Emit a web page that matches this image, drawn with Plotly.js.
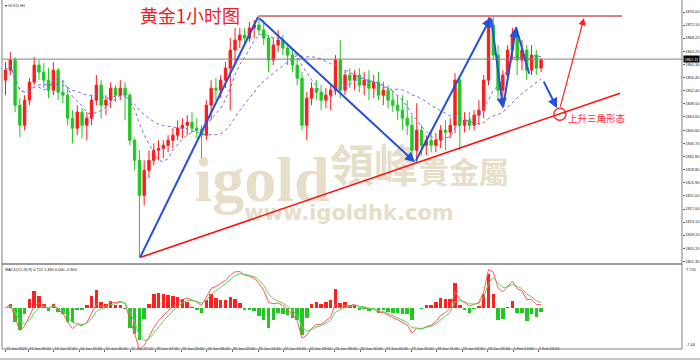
<!DOCTYPE html>
<html><head><meta charset="utf-8">
<script src="https://cdn.plot.ly/plotly-3.0.1.min.js"></script>
<style>html,body{margin:0;padding:0;background:#fff}#chart{width:700px;height:360px}</style>
</head><body><div id="chart"></div>
<script>
// ---- data (3-hour steps of hourly bar index) ----
const barIndex = Array.from({length:113},(_,k)=>3*k);
const openP = [1855.6,1858.6,1861.6,1848.1,1842.1,1849.6,1855.0,1860.1,1858.0,1855.6,
1852.6,1858.6,1852.0,1851.1,1844.2,1841.2,1846.0,1842.1,1844.2,1849.6,
1854.1,1848.1,1849.6,1853.2,1851.1,1853.2,1851.1,1837.6,1831.6,1821.1,
1828.6,1831.6,1834.6,1835.2,1836.1,1837.6,1839.1,1841.2,1842.1,1843.0,
1841.2,1840.6,1839.1,1848.1,1853.2,1852.6,1855.6,1859.2,1864.6,1867.6,
1869.1,1868.2,1871.2,1872.1,1870.6,1868.2,1861.6,1866.1,1867.6,1865.2,
1863.1,1860.1,1856.2,1842.1,1850.2,1853.2,1852.0,1849.6,1851.1,1852.6,
1861.6,1852.6,1857.1,1855.6,1857.1,1854.1,1855.6,1853.2,1855.0,1851.1,
1852.6,1849.6,1848.1,1846.6,1844.2,1842.1,1834.6,1840.6,1836.1,1837.6,
1836.1,1837.6,1840.6,1840.0,1842.1,1855.6,1842.1,1843.6,1842.1,1845.1,
1846.6,1855.6,1872.1,1863.1,1852.6,1857.1,1864.6,1869.1,1861.6,1864.6,
1858.6,1863.1,1859.2];
const highP = [1861.0,1864.0,1862.5,1850.2,1851.1,1856.2,1862.5,1861.6,1860.7,1859.2,
1861.0,1859.2,1855.6,1853.2,1846.6,1848.1,1847.2,1846.0,1851.1,1857.1,
1855.6,1851.1,1855.0,1854.1,1855.6,1855.0,1851.7,1838.2,1834.6,1831.6,
1834.6,1836.7,1837.6,1837.6,1839.1,1841.2,1843.6,1844.2,1845.1,1846.0,
1844.2,1842.1,1849.6,1855.6,1856.2,1857.1,1861.0,1868.2,1871.2,1871.2,
1871.2,1873.0,1873.6,1874.5,1873.6,1869.1,1868.2,1870.6,1869.1,1866.1,
1864.6,1862.2,1858.0,1852.0,1855.0,1855.6,1854.1,1853.2,1854.1,1863.1,
1867.6,1858.6,1859.2,1858.6,1859.2,1858.0,1858.6,1857.1,1858.0,1855.0,
1854.1,1852.6,1851.1,1851.1,1849.6,1845.1,1848.7,1842.1,1839.1,1840.0,
1839.7,1842.1,1843.6,1844.2,1857.7,1856.2,1846.0,1846.0,1846.6,1849.6,
1857.1,1874.5,1874.5,1866.1,1858.6,1866.1,1871.2,1870.6,1867.6,1866.1,
1866.1,1864.6,1862.2];
const lowP = [1851.1,1857.1,1846.0,1838.5,1840.6,1848.1,1854.1,1855.6,1853.2,1850.2,
1851.1,1849.6,1848.7,1842.1,1836.7,1839.1,1838.2,1837.6,1842.1,1848.1,
1844.2,1845.1,1847.2,1849.0,1849.6,1843.6,1836.1,1828.6,1802.5,1818.1,
1826.2,1830.1,1831.6,1832.2,1834.0,1835.2,1837.6,1838.2,1839.1,1840.0,
1838.2,1832.2,1837.6,1843.6,1849.6,1850.2,1853.2,1846.6,1860.1,1865.2,
1866.1,1867.0,1868.2,1869.1,1866.1,1858.0,1860.1,1864.0,1863.1,1860.1,
1858.0,1854.1,1840.6,1837.6,1848.1,1849.6,1846.6,1847.2,1846.6,1851.1,
1850.2,1851.1,1853.2,1852.6,1852.0,1851.1,1849.6,1850.2,1849.6,1848.1,
1847.2,1846.0,1843.6,1840.6,1839.1,1831.6,1831.0,1833.1,1833.1,1834.0,
1834.0,1835.2,1834.6,1838.2,1839.7,1834.6,1840.0,1840.6,1840.6,1842.1,
1844.2,1854.1,1861.6,1849.6,1847.2,1855.6,1861.6,1857.1,1858.6,1855.6,
1857.1,1857.1,1858.0];
const closeP = [1858.6,1861.6,1848.1,1842.1,1849.6,1855.0,1860.1,1858.0,1855.6,1852.6,
1858.6,1852.0,1851.1,1844.2,1841.2,1846.0,1842.1,1844.2,1849.6,1854.1,
1848.1,1849.6,1853.2,1851.1,1853.2,1851.1,1837.6,1831.6,1821.1,1828.6,
1831.6,1834.6,1835.2,1836.1,1837.6,1839.1,1841.2,1842.1,1843.0,1841.2,
1840.6,1839.1,1848.1,1853.2,1852.6,1855.6,1859.2,1864.6,1867.6,1869.1,
1868.2,1871.2,1872.1,1870.6,1868.2,1861.6,1866.1,1867.6,1865.2,1863.1,
1860.1,1856.2,1842.1,1850.2,1853.2,1852.0,1849.6,1851.1,1852.6,1861.6,
1852.6,1857.1,1855.6,1857.1,1854.1,1855.6,1853.2,1855.0,1851.1,1852.6,
1849.6,1848.1,1846.6,1844.2,1842.1,1834.6,1840.6,1836.1,1837.6,1836.1,
1837.6,1840.6,1840.0,1842.1,1855.6,1842.1,1843.6,1842.1,1845.1,1846.6,
1855.6,1872.1,1863.1,1852.6,1857.1,1864.6,1869.1,1861.6,1864.6,1858.6,
1863.1,1859.2,1861.6];
const currentPrice = 1861.9;
const currentPriceText = "1862.11";

const timeTickPos = [0,14.4,30.4,46.4,62.4,78.4,94.4,110.4,126.4,142.4,158.4,174.4,190.4,206.4,222.4,238.4,254.4,270.4,286.4,302.4,318.4,334.4];
const timeTickText = ["12 Jan 2021","13 Jan 06:00","13 Jan 22:00","14 Jan 14:00","15 Jan 06:00","15 Jan 22:00","18 Jan 17:00","19 Jan 14:00","20 Jan 06:00","20 Jan 22:00","21 Jan 14:00","22 Jan 07:00","22 Jan 23:00","25 Jan 18:00","26 Jan 10:00","27 Jan 02:00","27 Jan 19:00","28 Jan 11:00","29 Jan 03:00","29 Jan 19:00","1 Feb 14:00","2 Feb 06:00"];
const priceTickText = ["1876.00","1872.10","1868.20","1864.20","1860.30","1856.40","1852.40","1848.50","1844.60","1840.60","1836.70","1832.80","1828.80","1824.90","1821.00","1817.00","1813.10","1809.20","1805.20","1801.30"];
const priceTickVals = priceTickText.map(Number);
const macdTop = 7.724, macdBottom = -7.44;

// trend lines [x0,y0,x1,y1] in (bar index, price)
const blueLines = [[84.4,1802.5,158.4,1874.5],[320.3,1871.5,328.5,1857.5]];
const blueArrows = [[158.4,1874.5,256.9,1831.0],[256.9,1831.0,304.6,1874.5],[304.6,1874.5,312.1,1847.2],[312.1,1847.2,320.3,1871.5],[337.2,1855.6,346.0,1847.2]];
const supportLine = [84.4,1802.5,385.5,1851.7];
const resistLine = [158.4,1874.8,386.8,1874.8];
const redArrow = [347.8,1847.2,362.9,1874.2];
const circleCenter = [347.8,1845.4];

// ---- indicators ----
function sma(a,n){return a.map((_,i)=>{const s=Math.max(0,i-n+1);let t=0;for(let j=s;j<=i;j++)t+=a[j];return t/(i-s+1);});}
function ema(a,n){const k=2/(n+1);const o=[];a.forEach((v,i)=>o.push(i===0?v:k*v+(1-k)*o[i-1]));return o;}
const maFast = sma(closeP,7), maSlow = sma(closeP,20);
const e1 = ema(closeP,4), e2 = ema(closeP,9);
const dif = e1.map((v,i)=>v-e2[i]);
const dea = ema(dif,3);
const hist = dif.map((v,i)=>2.4*(v-dea[i]));

// ---- geometry helpers ----
const W=700,H=360,L=2,R=18,T=2,B=11, PW=W-L-R, PH=H-T-B;
const px = x => (x-L)/PW, py = y => (H-B-y)/PH;

const traces = [
 {type:'candlestick', x:barIndex, open:openP, high:highP, low:lowP, close:closeP, xaxis:'x', yaxis:'y',
  increasing:{line:{color:'#ff1a1a',width:1},fillcolor:'#ff1a1a'},
  decreasing:{line:{color:'#1ec81e',width:1},fillcolor:'#1ec81e'}, whiskerwidth:0, hoverinfo:'skip'},
 {type:'scatter', mode:'lines', x:barIndex, y:maFast, line:{color:'#6f6cf0',width:1,dash:'dot'}, xaxis:'x', yaxis:'y', hoverinfo:'skip'},
 {type:'scatter', mode:'lines', x:barIndex, y:maSlow, line:{color:'#6f6cf0',width:1,dash:'dot'}, xaxis:'x', yaxis:'y', hoverinfo:'skip'},
 {type:'bar', x:barIndex, y:hist, width:2.2, marker:{color:hist.map(v=>v>=0?'#ff2020':'#22c822'),line:{width:0}}, xaxis:'x', yaxis:'y2', hoverinfo:'skip'},
 {type:'scatter', mode:'lines', x:barIndex, y:dif, line:{color:'#ff5a5a',width:1}, xaxis:'x', yaxis:'y2', hoverinfo:'skip'},
 {type:'scatter', mode:'lines', x:barIndex, y:dea, line:{color:'#5fd05f',width:1}, xaxis:'x', yaxis:'y2', hoverinfo:'skip'}
];

const shapes = [];
const wm = '#e6dec8';
function wmShape(x0,y0,x1,y1,text,size,family,bold){
  shapes.push({type:'rect',xref:'paper',yref:'paper',x0:px(x0),x1:px(x1),y0:py(y1),y1:py(y0),layer:'below',
   line:{width:0,color:'rgba(0,0,0,0)'},fillcolor:'rgba(0,0,0,0)',
   label:{text:bold?'<b>'+text+'</b>':text,textposition:'middle center',font:{size:size,family:family,color:wm}}});
}
wmShape(190,135,334,209,'igold',64,'Liberation Serif',true);
wmShape(328,146,420,194,'領峰',44,'Noto Sans CJK TC',true);
wmShape(417,156,511,194,'貴金屬',30,'Noto Sans CJK TC',true);
wmShape(246,200,452,222,'www.igoldhk.com',21,'DejaVu Sans',true);

// separators / frame
shapes.push({type:'rect',xref:'paper',yref:'paper',x0:0,x1:1,y0:py(265),y1:py(263),fillcolor:'#9c9c9c',line:{width:0}});
shapes.push({type:'rect',xref:'paper',yref:'paper',x0:px(0),x1:px(700),y0:py(360),y1:py(358),fillcolor:'#c8c8c8',line:{width:0}});
shapes.push({type:'line',xref:'paper',yref:'paper',x0:1,x1:1,y0:py(349),y1:py(0),line:{color:'#808080',width:1}});
shapes.push({type:'line',xref:'paper',yref:'paper',x0:0,x1:0,y0:py(349),y1:py(0),line:{color:'#808080',width:1}});
shapes.push({type:'line',xref:'paper',yref:'paper',x0:0,x1:1,y0:0,y1:0,line:{color:'#808080',width:1}});
shapes.push({type:'line',xref:'paper',yref:'y',x0:0,x1:1,y0:currentPrice,y1:currentPrice,line:{color:'#808080',width:1}});
// trend lines
shapes.push({type:'line',xref:'x',yref:'y',x0:supportLine[0],y0:supportLine[1],x1:supportLine[2],y1:supportLine[3],line:{color:'#ff1010',width:1.6}});
shapes.push({type:'line',xref:'x',yref:'y',x0:resistLine[0],y0:resistLine[1],x1:resistLine[2],y1:resistLine[3],line:{color:'#a01010',width:1}});
blueLines.forEach(s=>shapes.push({type:'line',xref:'x',yref:'y',x0:s[0],y0:s[1],x1:s[2],y1:s[3],line:{color:'#2450dc',width:2}}));
shapes.push({type:'circle',xref:'x',yref:'y',x0:circleCenter[0]-3.8,x1:circleCenter[0]+3.8,y0:circleCenter[1]-1.8,y1:circleCenter[1]+1.8,line:{color:'#ff2020',width:1.3}});

const small = {size:3.9,color:'#222',family:'Liberation Sans'};
const annotations = [];
blueArrows.forEach(s=>annotations.push({x:s[2],y:s[3],ax:s[0],ay:s[1],xref:'x',yref:'y',axref:'x',ayref:'y',showarrow:true,arrowhead:2,arrowsize:1,arrowwidth:2,arrowcolor:'#2450dc',text:''}));
annotations.push({x:redArrow[2],y:redArrow[3],ax:redArrow[0],ay:redArrow[1],xref:'x',yref:'y',axref:'x',ayref:'y',showarrow:true,arrowhead:2,arrowsize:1.2,arrowwidth:1.2,arrowcolor:'#ff2020',text:''});
annotations.push({x:351.6,y:1844.2,xref:'x',yref:'y',xanchor:'left',yanchor:'middle',showarrow:false,text:'上升三角形态',font:{size:9.5,color:'#ff3030',family:'Noto Sans CJK SC'}});
annotations.push({x:px(190),y:py(15),xref:'paper',yref:'paper',xanchor:'center',yanchor:'middle',showarrow:false,text:'黄金1小时图',font:{size:18,color:'#ee1c24',family:'Noto Sans CJK SC'}});
annotations.push({x:px(3),y:py(5),xref:'paper',yref:'paper',xanchor:'left',yanchor:'middle',showarrow:false,text:'▾ GOLD,H1',font:small});
annotations.push({x:px(3),y:py(269),xref:'paper',yref:'paper',xanchor:'left',yanchor:'middle',showarrow:false,text:'MACD(12,26,9) 0.722 1.490 0.000 -0.964',font:small});
annotations.push({x:1,y:currentPrice,xref:'paper',yref:'y',xanchor:'left',yanchor:'middle',xshift:1,showarrow:false,text:currentPriceText,bgcolor:'#000',borderpad:0.5,font:{size:3.9,color:'#fff',family:'Liberation Sans'}});
annotations.push({x:1,y:macdTop,xref:'paper',yref:'y2',xanchor:'left',yanchor:'top',xshift:2,showarrow:false,text:String(macdTop),font:small});
annotations.push({x:1,y:macdBottom,xref:'paper',yref:'y2',xanchor:'left',yanchor:'bottom',xshift:2,showarrow:false,text:String(macdBottom),font:small});

const layout = {
  width:W,height:H,margin:{l:L,r:R,t:T,b:B},paper_bgcolor:'#fff',plot_bgcolor:'#fff',showlegend:false,
  xaxis:{domain:[0,1],range:[-2.2,424.4],anchor:'y2',showgrid:false,zeroline:false,rangeslider:{visible:false},
    tickmode:'array',tickvals:timeTickPos,ticktext:timeTickText,ticks:'outside',ticklen:2,tickcolor:'#666',tickangle:0,
    ticklabelposition:'outside right',ticklabelstandoff:-5,tickfont:{size:3.8,color:'#222',family:'Liberation Sans'},fixedrange:true},
  yaxis:{domain:[py(263),1],range:[1800.85,1879.0],side:'right',showgrid:false,zeroline:false,
    tickmode:'array',tickvals:priceTickVals,ticktext:priceTickText,ticks:'outside',ticklen:1.5,tickcolor:'#666',
    ticklabelstandoff:0,tickfont:small,fixedrange:true},
  yaxis2:{domain:[0,py(265)],range:[macdBottom,macdTop],side:'right',showgrid:false,zeroline:false,showticklabels:false,fixedrange:true},
  bargap:0, shapes:shapes, annotations:annotations
};
Plotly.newPlot('chart',traces,layout,{staticPlot:true,displayModeBar:false});
</script></body></html>
